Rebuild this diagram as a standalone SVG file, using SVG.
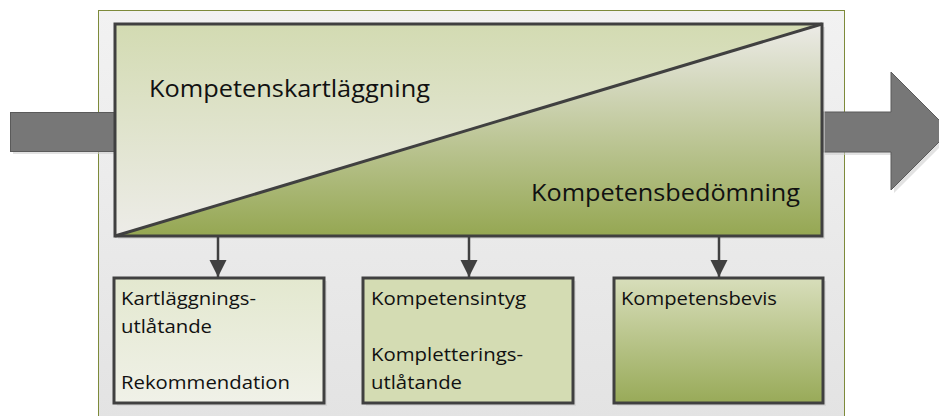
<svg xmlns="http://www.w3.org/2000/svg" width="939" height="416" viewBox="0 0 939 416">
<defs>
<linearGradient id="gPanel" x1="0" y1="0" x2="0" y2="1"><stop offset="0" stop-color="#f2f2f2"/><stop offset="1" stop-color="#e3e3e3"/></linearGradient>
<linearGradient id="gUpper" gradientUnits="userSpaceOnUse" x1="0" y1="24" x2="0" y2="236"><stop offset="0" stop-color="#d3dbb2"/><stop offset="1" stop-color="#edece8"/></linearGradient>
<linearGradient id="gLower" gradientUnits="userSpaceOnUse" x1="0" y1="24" x2="0" y2="236"><stop offset="0" stop-color="#ecebe7"/><stop offset="1" stop-color="#95a752"/></linearGradient>
<linearGradient id="gBox1" x1="0" y1="0" x2="0" y2="1"><stop offset="0" stop-color="#e3e8cf"/><stop offset="1" stop-color="#f0f1e8"/></linearGradient>
<linearGradient id="gBox3" x1="0" y1="0" x2="0" y2="1"><stop offset="0" stop-color="#d8debb"/><stop offset="1" stop-color="#98aa58"/></linearGradient>
<marker id="ah" viewBox="0 0 10 10" refX="10" refY="5" markerWidth="7" markerHeight="7" markerUnits="strokeWidth" orient="auto"><path d="M0,0 L10,5 L0,10 z" fill="#404040"/></marker>
</defs>
<style>
.big{font-family:"Open Sans","Liberation Sans",sans-serif;font-size:24px;fill:#111}
.sm{font-family:"Open Sans","Liberation Sans",sans-serif;font-size:19px;fill:#111}
.box{stroke:#404040;stroke-width:3}
.shadow{fill:#cfcfcf;opacity:0.6}
.conn{stroke:#404040;stroke-width:2.5;fill:none}
.garrow{fill:#777777;stroke:#5a5a5a;stroke-width:1}
</style>
<rect id="panel" x="98.5" y="10.5" width="746" height="410" fill="url(#gPanel)" stroke="#7d8a3a" stroke-width="1"/>
<g id="input-arrow">
<rect x="13" y="115" width="105" height="39" class="shadow"/>
<rect x="10.5" y="112.5" width="105" height="39" class="garrow"/>
</g>
<g id="output-arrow">
<polygon points="825,115 894,115 894,75 953,134 894,193 894,155 825,155" class="shadow"/>
<polygon points="822,112 891,112 891,72 950,131 891,190 891,152 822,152" class="garrow"/>
</g>
<g id="main">
<rect x="118" y="27" width="707" height="212" class="shadow"/>
<polygon points="115,24 822,24 115,236" fill="url(#gUpper)"/>
<polygon points="822,24 822,236 115,236" fill="url(#gLower)"/>
<rect x="115" y="24" width="707" height="212" fill="none" class="box"/>
<line x1="115" y1="236" x2="822" y2="24" stroke="#404040" stroke-width="3"/>
<text x="149" y="97" class="big" textLength="281" lengthAdjust="spacingAndGlyphs">Kompetenskartläggning</text>
<text x="531" y="201" class="big" textLength="269" lengthAdjust="spacingAndGlyphs">Kompetensbedömning</text>
</g>
<g id="connectors">
<line x1="218" y1="237" x2="218" y2="277" class="conn" marker-end="url(#ah)"/>
<line x1="469" y1="237" x2="469" y2="277" class="conn" marker-end="url(#ah)"/>
<line x1="719" y1="237" x2="719" y2="277" class="conn" marker-end="url(#ah)"/>
</g>
<g id="box1">
<rect x="117" y="281" width="210" height="125" class="shadow"/>
<rect x="114" y="278" width="210" height="125" fill="url(#gBox1)" class="box"/>
<text class="sm" x="121" y="305" textLength="135" lengthAdjust="spacingAndGlyphs">Kartläggnings-</text>
<text class="sm" x="121" y="333" textLength="91" lengthAdjust="spacingAndGlyphs">utlåtande</text>
<text class="sm" x="121" y="389" textLength="169" lengthAdjust="spacingAndGlyphs">Rekommendation</text>
</g>
<g id="box2">
<rect x="366" y="281" width="210" height="125" class="shadow"/>
<rect x="363" y="278" width="210" height="125" fill="#d4dcb3" class="box"/>
<text class="sm" x="371" y="305" textLength="155" lengthAdjust="spacingAndGlyphs">Kompetensintyg</text>
<text class="sm" x="371" y="361" textLength="152" lengthAdjust="spacingAndGlyphs">Kompletterings-</text>
<text class="sm" x="371" y="389" textLength="91" lengthAdjust="spacingAndGlyphs">utlåtande</text>
</g>
<g id="box3">
<rect x="617" y="281" width="209" height="125" class="shadow"/>
<rect x="614" y="278" width="209" height="125" fill="url(#gBox3)" class="box"/>
<text class="sm" x="621" y="305" textLength="156" lengthAdjust="spacingAndGlyphs">Kompetensbevis</text>
</g>
</svg>
